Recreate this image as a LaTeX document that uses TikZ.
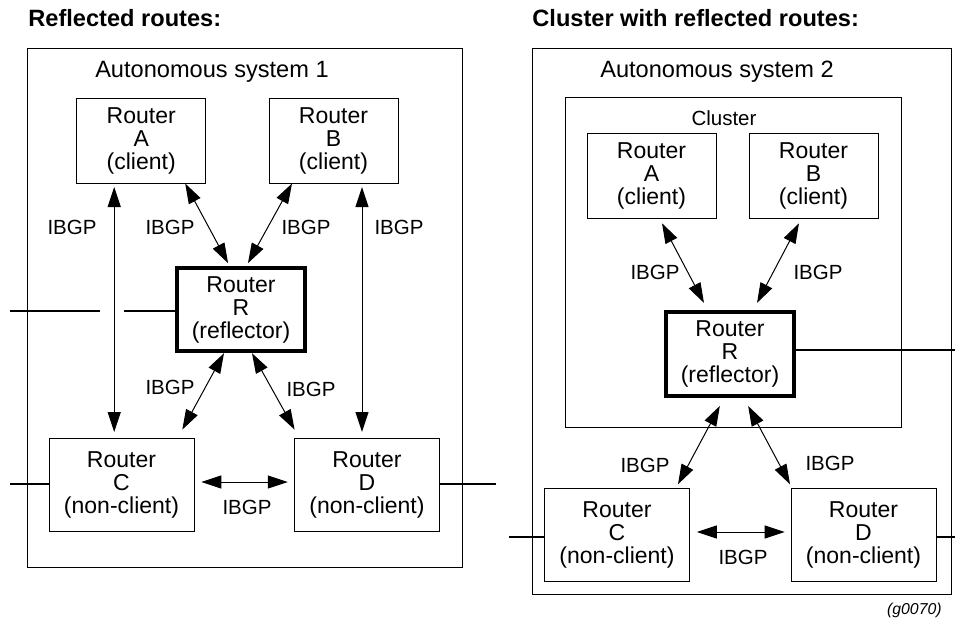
\documentclass[tikz,border=0pt]{standalone}
\usepackage{fontspec}
\setmainfont{Liberation Sans}
\usetikzlibrary{arrows.meta, positioning, calc}

\begin{document}
\begin{tikzpicture}[
    x=0.5pt, y=-0.5pt,
    every node/.style={font=\fontsize{11.5}{11.5}\selectfont},
    router/.style={rectangle, draw, line width=0.5pt, align=center, minimum width=64.5pt, minimum height=42.5pt, inner sep=0pt},
    nclient/.style={router, minimum width=72.5pt, minimum height=46.5pt},
    reflector/.style={router, line width=2.2pt, minimum width=64pt, minimum height=41.5pt},
    asbox/.style={rectangle, draw, line width=0.5pt, inner sep=0pt},
    aslbl/.style={font=\fontsize{11.8}{12}\selectfont, inner sep=0pt},
    lbl/.style={font=\fontsize{10.25}{10.25}\selectfont, inner sep=0pt},
    ttl/.style={font=\fontsize{11.8}{12}\selectfont\bfseries, anchor=west, inner sep=0pt},
    arr/.style={{Triangle[length=10pt, width=6.5pt]}-{Triangle[length=10pt, width=6.5pt]}, line width=0.5pt},
    ext/.style={line width=1pt}
]
\useasboundingbox (0,0) rectangle (955,618);

% left: reflected routes
\node[ttl] (t1) at (28,18) {Reflected routes:};
\node[asbox, minimum width=217.5pt, minimum height=259.5pt] (as1) at (244.5,307.5) {};
\node[aslbl] (as1t) at (212,72) {Autonomous system 1};

\node[router] (lA) at (141.2,140.5) {Router\\A\\(client)};
\node[router] (lB) at (333.5,140.5) {Router\\B\\(client)};
\node[reflector] (lR) at (241,309.5) {Router\\R\\(reflector)};
\node[nclient] (lC) at (121.5,484.5) {Router\\C\\(non-client)};
\node[nclient] (lD) at (367,484.5) {Router\\D\\(non-client)};

\draw[arr, shorten >=1.5pt] ([xshift=22pt]lA.south) -- ([xshift=-5.75pt]lR.north);
\draw[arr, shorten >=1.5pt] ([xshift=-20.75pt]lB.south) -- ([xshift=2.75pt]lR.north);
\draw[arr, shorten <=1.75pt, shorten >=2.75pt] ([xshift=-13.5pt]lA.south) -- ([xshift=-13.5pt]lA.south |- lC.north);
\draw[arr, shorten <=1.75pt, shorten >=2.75pt] ([xshift=14.25pt]lB.south) -- ([xshift=14.25pt]lB.south |- lD.north);
\draw[arr, shorten >=4.5pt] ([xshift=-8.5pt]lR.south) -- ([xshift=28.25pt]lC.north);
\draw[arr, shorten >=4.5pt] ([xshift=5.5pt]lR.south) -- ([xshift=-34pt]lD.north);
\draw[arr, shorten <=3.4pt, shorten >=3.1pt] ([yshift=1.25pt]lC.east) -- ([yshift=1.25pt]lD.west);

\node[lbl] (l1) at (72,227) {IBGP};
\node[lbl] (l2) at (170,227) {IBGP};
\node[lbl] (l3) at (306,227) {IBGP};
\node[lbl] (l4) at (399,227) {IBGP};
\node[lbl] (l5) at (170,387) {IBGP};
\node[lbl] (l6) at (311,389) {IBGP};
\node[lbl] (l7) at (247,507) {IBGP};

\coordinate (lxa) at (10,311);
\coordinate (lxb) at (100,311);
\coordinate (lxc) at (124,311);
\coordinate (lxd) at (10,484);
\coordinate (lxe) at (496,484);
\draw[ext] (lxa) -- (lxb);
\draw[ext] (lxc) -- (lxc -| lR.west);
\draw[ext] (lxd) -- (lxd -| lC.west);
\draw[ext] (lD.east |- lxe) -- (lxe);

% right: cluster with reflected routes
\node[ttl] (t2) at (532,18) {Cluster with reflected routes:};
\node[asbox, minimum width=209.5pt, minimum height=273pt] (as2) at (741.5,321) {};
\node[aslbl] (as2t) at (717,72) {Autonomous system 2};
\node[asbox, minimum width=168pt, minimum height=165pt] (cl) at (733,262) {};
\node[lbl] (clt) at (724,118) {Cluster};

\node[router] (rA) at (651.5,175.5) {Router\\A\\(client)};
\node[router] (rB) at (813.5,175.5) {Router\\B\\(client)};
\node[reflector, minimum height=42pt] (rR) at (730,354) {Router\\R\\(reflector)};
\node[nclient] (rC) at (617,535) {Router\\C\\(non-client)};
\node[nclient] (rD) at (863.5,535) {Router\\D\\(non-client)};

\draw[arr, shorten <=2.7pt, shorten >=3.9pt] ([xshift=4pt]rA.south) -- ([xshift=-11.2pt]rR.north);
\draw[arr, shorten <=2.7pt, shorten >=3.9pt] ([xshift=-6pt]rB.south) -- ([xshift=11.7pt]rR.north);
\draw[arr, shorten <=4.4pt, shorten >=2.1pt] ([xshift=-3pt]rR.south) -- ([xshift=29.5pt]rC.north);
\draw[arr, shorten <=4.4pt, shorten >=2.1pt] ([xshift=7pt]rR.south) -- ([xshift=-35.75pt]rD.north);
\draw[arr, shorten <=3.4pt, shorten >=2.9pt] ([yshift=1.5pt]rC.east) -- ([yshift=1.5pt]rD.west);

\node[lbl] (r1) at (655,272) {IBGP};
\node[lbl] (r2) at (818,272) {IBGP};
\node[lbl] (r3) at (645,465) {IBGP};
\node[lbl] (r4) at (830,463) {IBGP};
\node[lbl] (r5) at (743,557) {IBGP};

\coordinate (rxa) at (955,350);
\coordinate (rxb) at (509,537);
\coordinate (rxc) at (955,537);
\draw[ext] (rR.east |- rxa) -- (rxa);
\draw[ext] (rxb) -- (rxb -| rC.west);
\draw[ext] (rD.east |- rxc) -- (rxc);

\node[font=\fontsize{7.9}{8}\selectfont\itshape, anchor=east, inner sep=0pt] (fig) at (942,610) {(g0070)};
\end{tikzpicture}
\end{document}
